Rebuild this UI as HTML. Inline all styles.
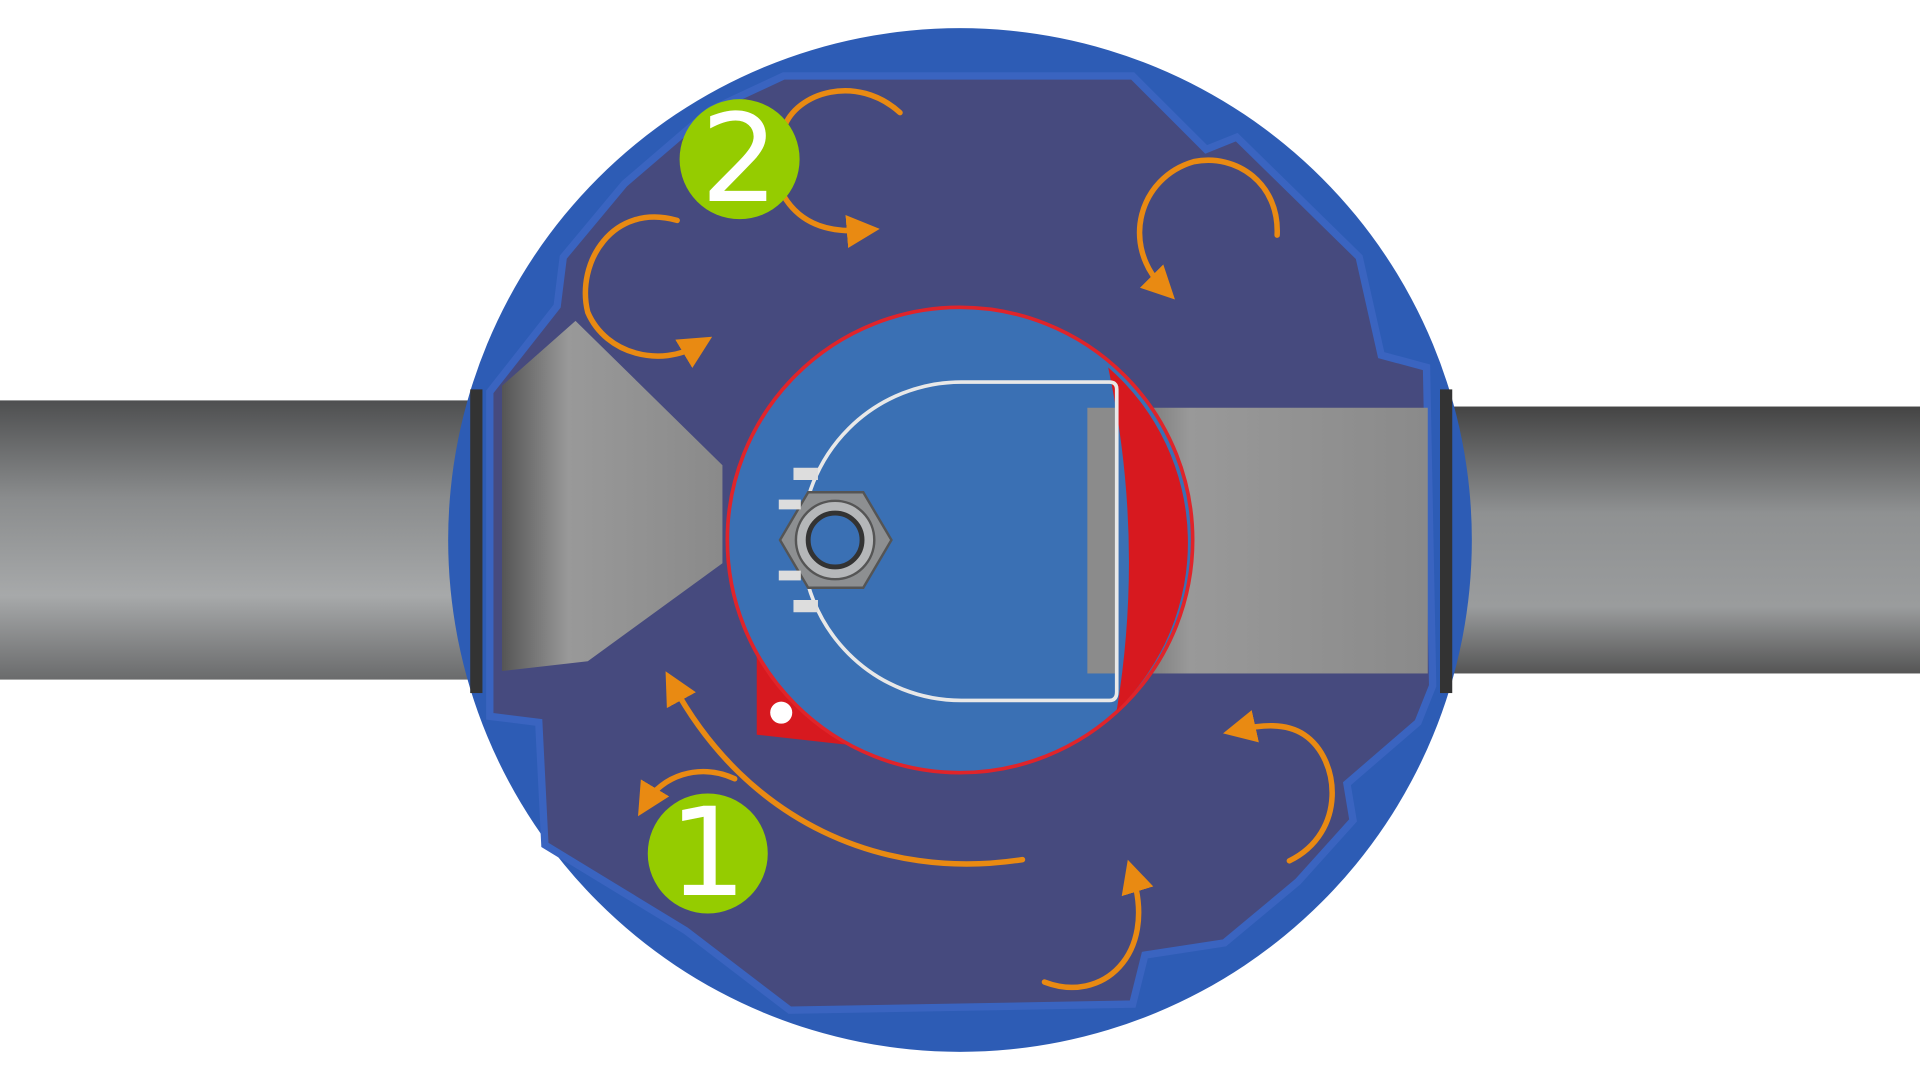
<!DOCTYPE html>
<html><head><meta charset="utf-8"><style>
html,body{margin:0;padding:0;background:#fff;overflow:hidden}
svg{display:block}
</style></head><body>
<svg width="1920" height="1080" viewBox="0 0 1568 882" xmlns="http://www.w3.org/2000/svg">
<defs>
<linearGradient id="pipe" x1="0" y1="0" x2="0" y2="1">
<stop offset="0" stop-color="#4e4f50"/><stop offset="0.35" stop-color="#8a8c8d"/><stop offset="0.7" stop-color="#a7a9aa"/><stop offset="1" stop-color="#6a6b6c"/>
</linearGradient>
<linearGradient id="pipe2" x1="0" y1="0" x2="0" y2="1">
<stop offset="0" stop-color="#444"/><stop offset="0.4" stop-color="#8f9192"/><stop offset="0.75" stop-color="#9a9c9d"/><stop offset="1" stop-color="#555"/>
</linearGradient>
<linearGradient id="inpipe" x1="0" y1="0" x2="1" y2="0">
<stop offset="0" stop-color="#555"/><stop offset="0.3" stop-color="#999"/><stop offset="1" stop-color="#8a8a8a"/>
</linearGradient>
<marker id="ah" viewBox="0 0 10 10" refX="5" refY="5" markerWidth="6" markerHeight="6" orient="auto">
<path d="M0,0 L10,5 L0,10 z" fill="#e98a12"/></marker>
</defs>
<rect width="1568" height="882" fill="#fff"/>
<rect x="0" y="327" width="392" height="228" fill="url(#pipe)"/>
<rect x="1175" y="332" width="393" height="218" fill="url(#pipe2)"/>
<circle cx="784" cy="441" r="418" fill="#2d5cb5"/>
<path d="M640,62 L925,62 L985,122 L1010,112 L1110,210 L1128,290 L1165,300 L1170,560 L1158,590 L1100,640 L1105,670 L1060,720 L1000,770 L935,780 L925,820 L645,825 L560,760 L445,690 L440,590 L400,585 L400,320 L455,250 L460,210 L510,150 L580,90 Z" fill="#464a7e" stroke="#3a64c0" stroke-width="6"/>
<path d="M410,315 L470,262 L590,380 L590,460 L480,540 L410,548 Z" fill="url(#inpipe)"/>
<rect x="888" y="333" width="278" height="217" fill="url(#inpipe)"/>
<rect x="384" y="318" width="10" height="248" fill="#333"/>
<rect x="1176" y="318" width="10" height="248" fill="#333"/>
<path d="M618,530 L618,600 L690,608 Z" fill="#d7191f"/>
<circle cx="638" cy="582" r="9" fill="#fff"/>
<circle cx="784" cy="441" r="190" fill="#3a70b4" stroke="#e0242a" stroke-width="3"/>
<path d="M905,300 A190,190 0 0,1 912,580 Q935,441 905,300 Z" fill="#d7191f"/>
<rect x="888" y="333" width="25" height="217" fill="#8b8b8b"/>
<path d="M906,312 L785,312 A129,129 0 0,0 785,572 L906,572 Q912,572 912,565 L912,318 Q912,312 906,312 Z" fill="none" stroke="#e8e8e8" stroke-width="3"/>
<polygon points="660,402 705,402 728,441 705,480 660,480 637,441" fill="#8d8f91" stroke="#555" stroke-width="2"/>
<circle cx="682" cy="441" r="32" fill="#b5b7b9" stroke="#555" stroke-width="2"/>
<circle cx="682" cy="441" r="22" fill="#3a70b4" stroke="#333" stroke-width="4"/>
<g fill="#ddd"><rect x="648" y="382" width="20" height="10"/><rect x="636" y="408" width="18" height="8"/><rect x="636" y="466" width="18" height="8"/><rect x="648" y="490" width="20" height="10"/></g>
<g fill="none" stroke="#e98a12" stroke-width="4.5" stroke-linecap="round">
<path d="M735,92 C700,60 650,75 640,105" />
<path d="M640,160 C655,185 680,190 705,188" marker-end="url(#ah)"/>
<path d="M553,180 C500,165 470,215 480,255 C495,290 540,300 570,282" marker-end="url(#ah)"/>
<path d="M1043,192 C1045,150 1010,125 975,132 C930,145 915,200 950,235" marker-end="url(#ah)"/>
<path d="M835,702 C720,720 610,670 550,560" marker-end="url(#ah)"/>
<path d="M600,636 C570,622 540,635 528,655" marker-end="url(#ah)"/>
<path d="M1053,703 C1100,680 1095,620 1065,600 C1050,590 1030,592 1012,596" marker-end="url(#ah)"/>
<path d="M853,802 C900,820 945,780 925,715" marker-end="url(#ah)"/>
</g>
<circle cx="604" cy="130" r="49" fill="#95cc00"/>
<text x="604" y="164" text-anchor="middle" font-family="DejaVu Sans, sans-serif" font-size="100" fill="#fff">2</text>
<circle cx="578" cy="697" r="49" fill="#95cc00"/>
<text x="578" y="731" text-anchor="middle" font-family="DejaVu Sans, sans-serif" font-size="100" fill="#fff">1</text>
</svg>
</body></html>
